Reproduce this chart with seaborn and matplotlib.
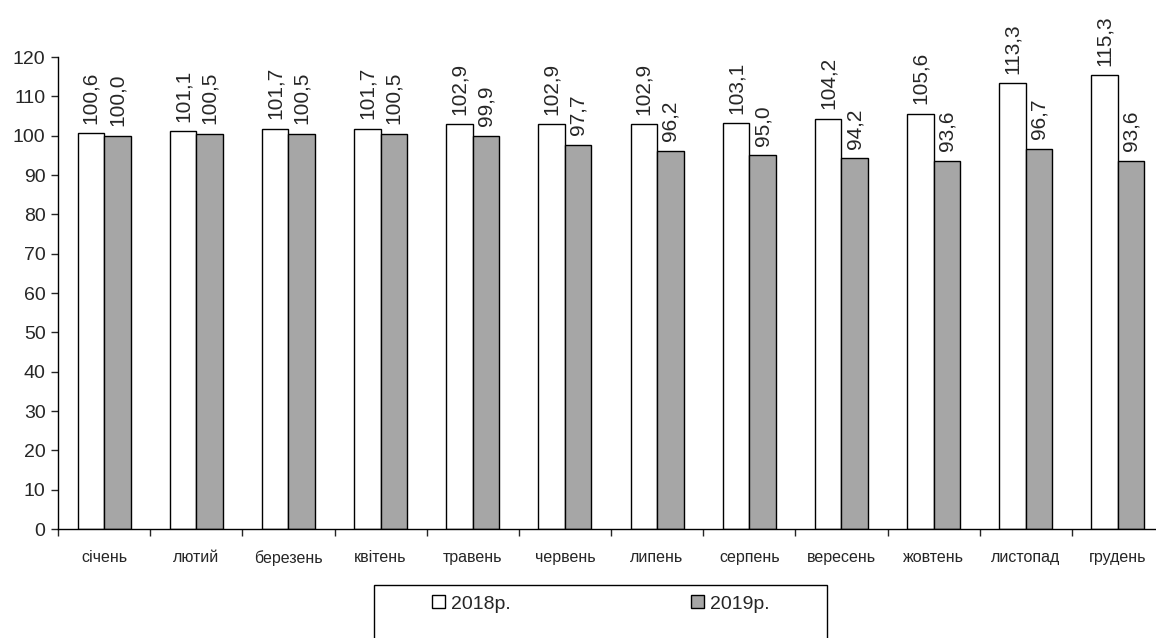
import pandas as pd
import matplotlib.pyplot as plt
import matplotlib.patches as mpatches
import seaborn as sns

# Data
months = ["січень", "лютий", "березень", "квітень", "травень", "червень",
          "липень", "серпень", "вересень", "жовтень", "листопад", "грудень"]
values_2018 = [100.6, 101.1, 101.7, 101.7, 102.9, 102.9,
               102.9, 103.1, 104.2, 105.6, 113.3, 115.3]
values_2019 = [100.0, 100.5, 100.5, 100.5, 99.9, 97.7,
               96.2, 95.0, 94.2, 93.6, 96.7, 93.6]
years = ["2018р.", "2019р."]

df = pd.DataFrame({
    "month": months * 2,
    "year": [years[0]] * 12 + [years[1]] * 12,
    "value": values_2018 + values_2019,
})

sns.set_style("white")
plt.rcParams["font.family"] = ["Liberation Sans", "DejaVu Sans"]

W, H = 1156, 638
fig = plt.figure(figsize=(W / 100, H / 100), dpi=100)
ax = fig.add_axes([58 / W, 1 - 529 / H, 1106 / W, 472 / H])

sns.barplot(data=df, x="month", y="value", hue="year",
            palette=["white", "#A6A6A6"], saturation=1,
            edgecolor="black", linewidth=1, width=0.576, ax=ax)

for cont, vals in zip(ax.containers, [values_2018, values_2019]):
    ax.bar_label(cont, labels=[f"{v:.1f}".replace(".", ",") for v in vals],
                 rotation=90, padding=7, fontsize=15)

ax.set_ylim(0, 120)
ax.set_xlim(-0.5, 11.5)
ax.set_yticks(range(0, 121, 10))
ax.set_xlabel("")
ax.set_ylabel("")
ax.tick_params(axis="y", labelsize=14, length=5, width=1, direction="out",
               left=True, pad=4)
ax.tick_params(axis="x", which="major", length=0, labelsize=11.5, pad=15)
ax.set_xticks([i - 0.5 for i in range(13)], minor=True)
ax.tick_params(axis="x", which="minor", length=5, width=1, direction="out",
               bottom=True)
sns.despine(ax=ax)
for s in ["left", "bottom"]:
    ax.spines[s].set_color("black")
    ax.spines[s].set_linewidth(1)

handles, labels = ax.get_legend_handles_labels()
if ax.legend_ is not None:
    ax.legend_.remove()
fig.legend(handles, labels, loc="center", ncol=2, frameon=False,
           bbox_to_anchor=(601 / W, 1 - 604 / H), fontsize=14,
           handlelength=0.65, handleheight=0.65, handletextpad=0.3,
           columnspacing=9.3)
fig.patches.append(mpatches.Rectangle((374 / W, -0.05), 453 / W, 0.05 + (638 - 585) / H,
                                      transform=fig.transFigure, fill=False,
                                      edgecolor="black", linewidth=1))

fig.savefig("out.png", dpi=100)
